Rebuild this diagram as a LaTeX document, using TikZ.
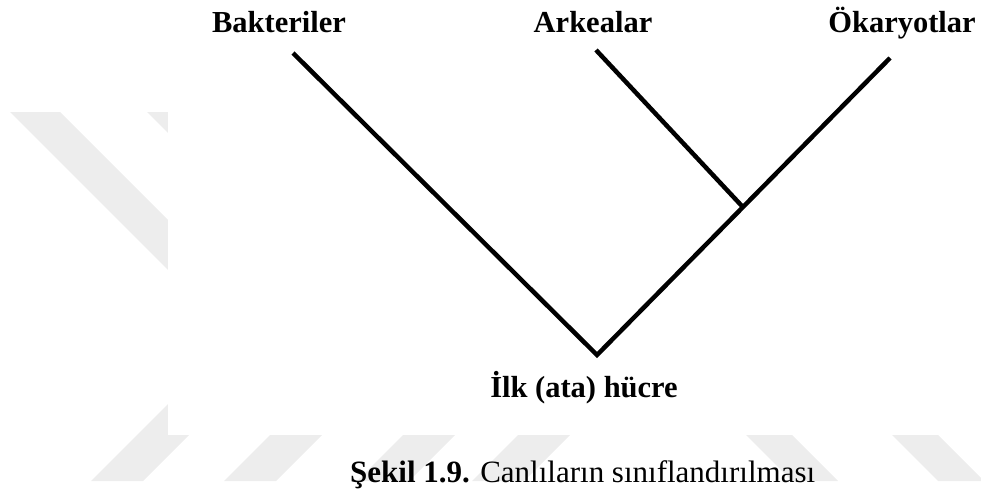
\documentclass[tikz,border=0pt]{standalone}
\usepackage{fontspec}
\setmainfont{Liberation Serif}
\usetikzlibrary{calc}
\begin{document}
\begin{tikzpicture}[x=1pt,y=-1pt,
  wm/.style={fill=black!7,draw=none},
  lbl/.style={anchor=base,inner sep=0pt,font=\fontsize{30.5}{36}\selectfont\bfseries},
  captext/.style={anchor=base west,inner sep=0pt,font=\fontsize{31}{37}\selectfont},
  branch/.style={line width=4.5pt,line join=miter}]
\useasboundingbox (0,0) rectangle (981,492);
% watermark bands
\fill[wm] (10,112) -- (60,112) -- (300,352) -- (250,352) -- cycle;
\fill[wm] (147,112) -- (197,112) -- (300,215) -- (250,215) -- cycle;
\foreach \L in {572,705,838,953}{
  \fill[wm] ({\L-481},481) -- ({\L-481+52},481) -- ({\L-380+52},380) -- ({\L-380},380) -- cycle;
}
\foreach \R in {311,457}{
  \fill[wm] ({\R+380},380) -- ({\R+46+380},380) -- ({\R+46+481},481) -- ({\R+481},481) -- cycle;
}
\fill[white] (168,-2) rectangle (983,435);
% tree
\coordinate (bt) at (293,53);
\coordinate (at) at (596,50);
\coordinate (et) at (890,58);
\coordinate (root) at (597,355);
\coordinate (j) at ($(root)!0.498!(et)$);
\draw[branch] (bt) -- (root) -- (et);
\draw[branch] (at) -- (j);
% labels
\node[lbl] (bak) at (279,33) {Bakteriler};
\node[lbl] (ark) at (593,33) {Arkealar};
\node[lbl] (oka) at (902,33) {Ökaryotlar};
\node[lbl] (ilk) at (584,397) {İlk (ata) hücre};
\node[captext] (caption) at (350,482) {\textbf{Şekil 1.9.} Canlıların sınıflandırılması};
\end{tikzpicture}
\end{document}
